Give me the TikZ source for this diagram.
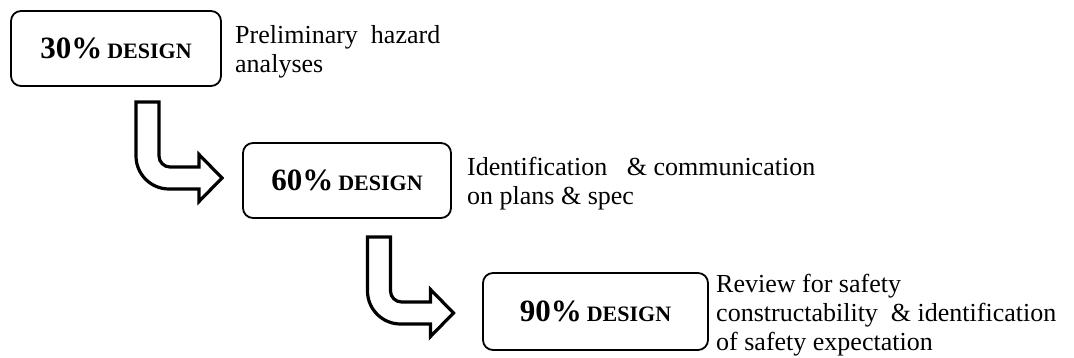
\documentclass[tikz,border=0pt]{standalone}
\usepackage{fontspec}
\setmainfont{Liberation Serif}
\newcommand{\designlabel}[1]{{\fontsize{31}{31}\selectfont\bfseries #1\%}\hspace{5pt}{\fontsize{22}{22}\selectfont\bfseries DESIGN}}
\tikzset{
  stagebox/.style={draw=black, line width=1.8pt, rounded corners=10pt, fill=white,
    inner sep=0pt, minimum height=75pt, align=center},
  desc/.style={anchor=north west, inner sep=0pt, align=left,
    font=\fontsize{26}{29}\selectfont},
  bentarrow/.pic={
    \draw[line width=3.2pt, fill=white, line join=miter]
      (-11.5,0) -- (-11.5,54) .. controls (-11.5,72.2) and (3.3,87) .. (21.5,87)
      -- (51.5,87) -- (51.5,99.5) -- (74.5,76) -- (51.5,52.5) -- (51.5,65)
      -- (22.5,65) .. controls (16.4,65) and (11.5,60.1) .. (11.5,54)
      -- (11.5,0) -- cycle;
  }
}
\begin{document}
\begin{tikzpicture}[x=1pt, y=-1pt]
\useasboundingbox (0,0) rectangle (1074,358);
% stage boxes
\node[stagebox, minimum width=210pt] (b30) at (116,48.5) {\designlabel{30}};
\node[stagebox, minimum width=208pt] (b60) at (347,180.5) {\designlabel{60}};
\node[stagebox, minimum width=225pt, minimum height=77pt] (b90) at (595.5,311.5) {\designlabel{90}};
% descriptions
\node[desc] (d30) at (235,25) {Preliminary\ \ hazard\\analyses};
\node[desc] (d60) at (467,157) {Identification\ \ \ \& communication\\on plans \& spec};
\node[desc] (d90) at (716,274) {Review\ for safety\\constructability\ \ \& identification\\of safety\ expectation};
% bent arrows
\pic (a1) at (147.5,102) {bentarrow};
\pic (a2) at (379,237) {bentarrow};
\end{tikzpicture}
\end{document}
